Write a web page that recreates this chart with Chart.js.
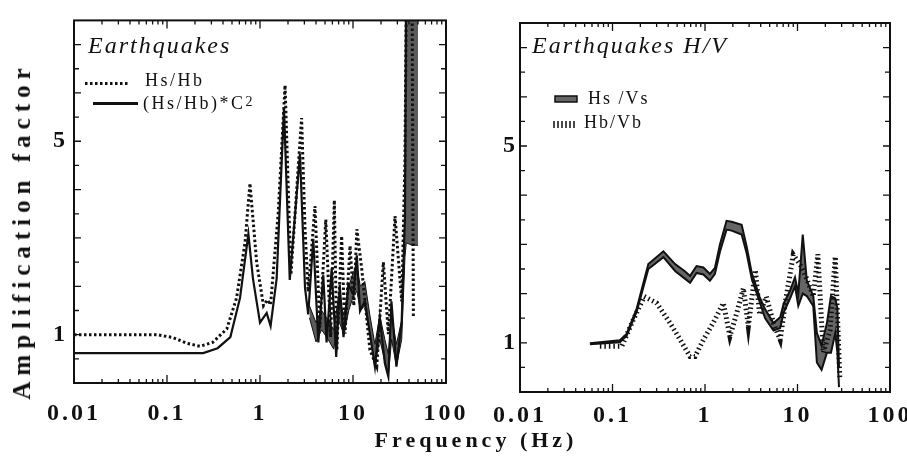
<!DOCTYPE html>
<html>
<head>
<meta charset="utf-8">
<script src="https://cdn.jsdelivr.net/npm/chart.js@4.4.1/dist/chart.umd.min.js"></script>
<style>
  body { margin: 0; background: #fff; width: 907px; height: 470px; position: relative; overflow: hidden; }
  canvas { position: absolute; top: 0; }
  #left { left: 0; }
  #right { left: 485px; }
  .lab { position: absolute; font-family: "Liberation Serif", serif; font-weight: bold; color: #111; white-space: nowrap; }
  #ylab { font-size: 25px; letter-spacing: 6px; left: 22px; top: 231px; transform: translate(-50%, -50%) rotate(-90deg); }
  #xlab { font-size: 22px; letter-spacing: 4px; left: 476px; top: 440px; transform: translate(-50%, -50%); }
</style>
</head>
<body>
<canvas id="left" width="485" height="470"></canvas>
<canvas id="right" width="440" height="470"></canvas>
<div class="lab" id="ylab">Amplification factor</div>
<div class="lab" id="xlab">Frequency (Hz)</div>
<script>
'use strict';

// left panel - Hs/Hb (dotted)
let hsFreq = [0.01, 0.078, 0.116, 0.164, 0.226, 0.31, 0.44, 0.56, 0.69, 0.78, 0.92, 1.09, 1.2, 1.3, 1.57, 1.86, 2.15, 2.8, 3.05, 3.3, 3.9, 4.4, 5.1, 5.75, 6.3, 6.7, 7.55, 8.2, 9.3, 10.2, 11, 12.4, 15.2, 18, 21.2, 24, 28.3, 33.4, 36.2, 37.8, 43, 44.6];
let hsHb = [1.0, 1.0, 0.94, 0.82, 0.76, 0.84, 1.12, 1.76, 2.9, 4.13, 2.5, 1.6, 1.72, 1.62, 3.52, 6.16, 2.24, 5.48, 3.18, 1.89, 3.66, 1.15, 3.38, 0.95, 3.78, 0.68, 3.04, 1.02, 2.84, 1.6, 3.18, 2.37, 0.68, 0.34, 2.5, 1.01, 3.45, 1.69, 4.6, 9, 9, 1.35];

// left panel - (Hs/Hb)*C^2 (solid)
let c2Freq = [0.01, 0.1, 0.245, 0.35, 0.48, 0.61, 0.75, 0.84, 1.0, 1.18, 1.30, 1.51, 1.81, 2.09, 2.69, 3.05, 3.3, 3.74, 4.24, 4.79, 5.2, 5.9, 6.6, 7.2, 7.9, 8.9, 10.1, 11, 11.9, 13.4, 15.2, 17.2, 19.4, 22, 24, 25.9, 29.3, 33.4, 36.2, 37.4];
let hsHbC2 = [0.62, 0.62, 0.62, 0.72, 0.95, 1.76, 3.08, 2.16, 1.25, 1.45, 1.18, 2.16, 5.68, 2.13, 4.74, 1.96, 1.42, 2.98, 0.84, 2.23, 0.84, 2.37, 0.54, 2.03, 0.95, 2.03, 1.83, 2.64, 1.49, 1.69, 1.02, 0.34, 1.35, 0.41, 0.13, 1.69, 0.34, 1.28, 3.45, 9];

// left panel - shaded part at high frequency
let bandFreq = [3.4, 4.0, 4.6, 5.4, 6.2, 7.0, 8.0, 9.0, 10.1, 11.0, 12.0, 13.4, 15.2, 17.2, 19.4, 22.0, 24.0, 26.0, 29.3, 33.4, 36.2, 37.4, 43, 50];
let bandLow = [1.35, 0.85, 1.1, 0.9, 0.7, 1.3, 1.0, 1.5, 1.8, 1.9, 1.5, 1.6, 1.0, 0.35, 0.9, 0.45, 0.15, 0.9, 0.35, 0.9, 2.6, 2.9, 2.85, 2.85];
let bandHigh = [1.6, 1.25, 1.5, 1.3, 1.1, 1.8, 1.4, 2.0, 2.3, 2.4, 2.0, 2.1, 1.4, 0.8, 1.4, 0.9, 0.6, 1.4, 0.8, 1.3, 3.5, 9, 9, 9];

// right panel - Hs/Vs (grey band)
let hvFreq = [0.057, 0.12, 0.142, 0.183, 0.244, 0.355, 0.475, 0.61, 0.69, 0.81, 0.96, 1.13, 1.28, 1.45, 1.71, 1.94, 2.49, 2.82, 3.2, 3.9, 4.47, 5.5, 6.5, 7.1, 8.3, 9.4, 10.2, 11.4, 12.6, 14.8, 16.2, 18.2, 20.8, 23, 25.6, 27, 28.1];
let hsVsLow = [0.97, 1.01, 1.14, 1.64, 2.50, 2.74, 2.46, 2.30, 2.22, 2.42, 2.39, 2.26, 2.40, 2.85, 3.30, 3.28, 3.20, 2.82, 2.30, 1.83, 1.50, 1.25, 1.30, 1.62, 1.90, 2.15, 1.75, 2.0, 1.95, 1.75, 0.6, 0.45, 0.8, 0.8, 1.2, 0.8, 0.1];
let hsVsHigh = [0.99, 1.05, 1.18, 1.70, 2.60, 2.86, 2.60, 2.45, 2.36, 2.56, 2.53, 2.40, 2.52, 3.0, 3.48, 3.46, 3.40, 2.96, 2.42, 1.93, 1.68, 1.40, 1.52, 1.80, 2.06, 2.33, 2.00, 3.2, 2.27, 1.95, 1.2, 0.95, 1.4, 1.95, 1.9, 1.7, 0.5];

// right panel - Hb/Vb (hatched)
let hbFreq = [0.073, 0.126, 0.168, 0.22, 0.30, 0.42, 0.54, 0.69, 0.78, 0.96, 1.23, 1.58, 1.86, 2.2, 2.6, 2.94, 3.5, 3.9, 4.6, 5.5, 6.5, 7.5, 9, 11, 12.6, 14.8, 16.6, 19, 22.5, 25.6, 28.7];
let hbVb = [0.93, 0.93, 1.47, 1.94, 1.81, 1.40, 1.06, 0.72, 0.72, 1.06, 1.41, 1.81, 1.13, 1.60, 2.11, 1.33, 2.48, 1.57, 1.94, 1.40, 1.06, 1.9, 2.79, 2.55, 2.3, 1.94, 2.8, 0.8, 1.26, 2.75, 0.25];

let xTicks = [0.01, 0.1, 1, 10, 100];
let xTickLabels = ['0.01', '0.1', '1', '10', '100'];
let yTicks = [1, 5];

let ink = '#111';
let serif = '"Liberation Serif", serif';

function pts(xs, ys){
  return xs.map(function(x, i){ return {x: x, y: ys[i]}; });
}

// box around the plot + inward ticks on all four sides
let frameTicks = {
  id: 'frameTicks',
  beforeDraw(chart){
    chart.ctx.letterSpacing = '3px';
  },
  afterDatasetsDraw(chart){
    let ctx = chart.ctx, a = chart.chartArea;
    let x = chart.scales.x, y = chart.scales.y;
    ctx.save();
    ctx.strokeStyle = ink;
    ctx.lineWidth = 2;
    ctx.strokeRect(a.left, a.top, a.right - a.left, a.bottom - a.top);
    ctx.lineWidth = 1.3;
    ctx.beginPath();
    for (let d = -2; d < 2; d++){
      for (let m = 1; m < 10; m++){
        let px = x.getPixelForValue(m * Math.pow(10, d));
        let len = m === 1 ? 8 : 4;
        ctx.moveTo(px, a.bottom); ctx.lineTo(px, a.bottom - len);
        ctx.moveTo(px, a.top); ctx.lineTo(px, a.top + len);
      }
    }
    for (let v = 0.5; v < y.max; v += 0.5){
      let py = y.getPixelForValue(v);
      let len = v % 1 === 0 ? 7 : 5;
      ctx.moveTo(a.left, py); ctx.lineTo(a.left + len, py);
      ctx.moveTo(a.right, py); ctx.lineTo(a.right - len, py);
    }
    ctx.stroke();
    ctx.restore();
  }
};

function makeOptions(padRight, padTop, yWidth, xHeight, xPad, yPad){
  return {
    responsive: false,
    animation: false,
    layout: {padding: {left: 0, right: padRight, top: padTop, bottom: 0}},
    plugins: {legend: {display: false}, tooltip: {enabled: false}},
    elements: {point: {radius: 0}, line: {tension: 0}},
    scales: {
      x: {
        type: 'logarithmic', min: 0.01, max: 100,
        grid: {display: false, drawTicks: false}, border: {display: false},
        afterBuildTicks(s){ s.ticks = xTicks.map(function(v){ return {value: v}; }); },
        afterFit(s){ s.height = xHeight; },
        ticks: {
          autoSkip: false, maxRotation: 0, padding: xPad, color: ink,
          font: {family: serif, weight: 'bold', size: 24},
          callback: function(v, i){ return xTickLabels[i]; }
        }
      },
      y: {
        type: 'linear', min: 0, max: 7.5,
        grid: {display: false, drawTicks: false}, border: {display: false},
        afterBuildTicks(s){ s.ticks = yTicks.map(function(v){ return {value: v}; }); },
        afterFit(s){ s.width = yWidth; },
        ticks: {
          padding: yPad, color: ink,
          font: {family: serif, weight: 'bold', size: 24},
          callback: function(v){ return String(v); }
        }
      }
    }
  };
}

// in-plot caption + key, left
let leftKey = {
  id: 'leftKey',
  afterDraw(chart){
    let ctx = chart.ctx, a = chart.chartArea;
    let l = a.left, t = a.top;
    ctx.save();
    ctx.fillStyle = ink;
    ctx.strokeStyle = ink;
    ctx.textBaseline = 'alphabetic';
    ctx.textAlign = 'left';
    ctx.font = 'italic 24px ' + serif;
    ctx.letterSpacing = '2px';
    ctx.fillText('Earthquakes', l + 14, t + 33);

    ctx.font = '18px ' + serif;
    ctx.letterSpacing = '2.5px';
    ctx.fillText('Hs/Hb', l + 71, t + 66);
    ctx.fillText('(Hs/Hb)*C', l + 69, t + 89);
    let w = ctx.measureText('(Hs/Hb)*C').width;
    ctx.font = '14px ' + serif;
    ctx.fillText('2', l + 69 + w, t + 86);

    ctx.lineWidth = 3;
    ctx.setLineDash([2.5, 2.5]);
    ctx.beginPath();
    ctx.moveTo(l + 11, t + 63); ctx.lineTo(l + 54, t + 63);
    ctx.stroke();
    ctx.setLineDash([]);
    ctx.beginPath();
    ctx.moveTo(l + 19, t + 83); ctx.lineTo(l + 64, t + 83);
    ctx.stroke();
    ctx.restore();
  }
};

// in-plot caption + key, right
let rightKey = {
  id: 'rightKey',
  afterDraw(chart){
    let ctx = chart.ctx, a = chart.chartArea;
    let l = a.left, t = a.top;
    ctx.save();
    ctx.fillStyle = ink;
    ctx.strokeStyle = ink;
    ctx.textBaseline = 'alphabetic';
    ctx.textAlign = 'left';
    ctx.font = 'italic 24px ' + serif;
    ctx.letterSpacing = '2px';
    ctx.fillText('Earthquakes H/V', l + 12, t + 30);

    ctx.font = '18px ' + serif;
    ctx.letterSpacing = '2px';
    ctx.fillText('Hs /Vs', l + 68, t + 81);
    ctx.fillText('Hb/Vb', l + 64, t + 105);

    ctx.fillStyle = '#666';
    ctx.fillRect(l + 35, t + 73, 22, 6);
    ctx.lineWidth = 1.5;
    ctx.strokeRect(l + 35, t + 73, 22, 6);

    ctx.lineWidth = 1.5;
    ctx.beginPath();
    for (let i = 0; i < 6; i++){
      ctx.moveTo(l + 34 + i * 4, t + 98); ctx.lineTo(l + 34 + i * 4, t + 105);
    }
    ctx.stroke();
    ctx.restore();
  }
};

new Chart(document.getElementById('left'), {
  type: 'line',
  data: {
    datasets: [
      {data: pts(hsFreq, hsHb), borderColor: ink, borderWidth: 3, borderDash: [2.5, 2.5], fill: false},
      {data: pts(c2Freq, hsHbC2), borderColor: ink, borderWidth: 2.2, fill: false},
      {data: pts(bandFreq, bandLow), borderColor: ink, borderWidth: 1, fill: false},
      {data: pts(bandFreq, bandHigh), borderColor: ink, borderWidth: 1, backgroundColor: '#5b5b5b', fill: '-1'}
    ]
  },
  options: makeOptions(39, 14, 74, 87, 16, 6),
  plugins: [frameTicks, leftKey]
});

new Chart(document.getElementById('right'), {
  type: 'line',
  data: {
    datasets: [
      {data: pts(hbFreq, hbVb), borderColor: ink, borderWidth: 5, borderDash: [1.5, 3], fill: false},
      {data: pts(hvFreq, hsVsLow), borderColor: ink, borderWidth: 2, fill: false},
      {data: pts(hvFreq, hsVsHigh), borderColor: ink, borderWidth: 2, backgroundColor: '#666', fill: '-1'}
    ]
  },
  options: makeOptions(35, 23, 35, 78, 9, 2),
  plugins: [frameTicks, rightKey]
});
</script>
</body>
</html>
